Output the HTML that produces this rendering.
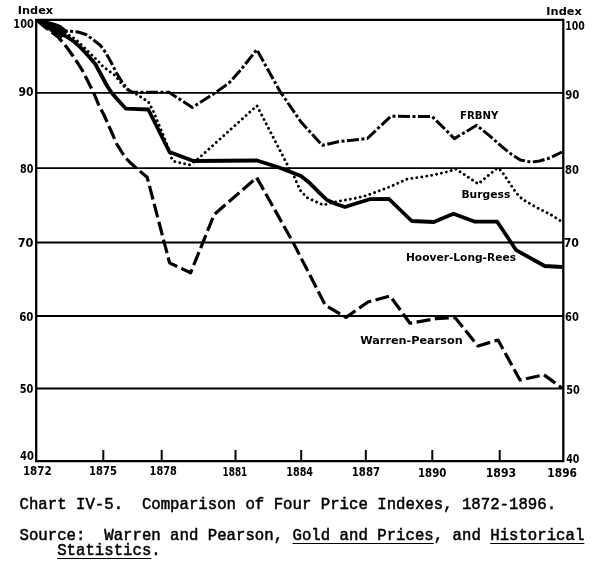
<!DOCTYPE html>
<html><head><meta charset="utf-8"><style>
html,body{margin:0;padding:0;background:#fff;width:600px;height:564px;overflow:hidden;position:relative}
.cap{position:absolute;left:19.5px;font-family:"Liberation Mono",monospace;font-size:15.7px;color:#000;white-space:pre;line-height:14px;-webkit-text-stroke:0.5px #000}
u{text-decoration:underline;text-underline-offset:2.5px;text-decoration-thickness:1.4px}
</style></head><body>
<svg width="600" height="564" viewBox="0 0 600 564" style="position:absolute;left:0;top:0"><line x1="36.5" y1="92.8" x2="563.5" y2="92.8" stroke="#000" stroke-width="1.8"/><line x1="36.5" y1="168.1" x2="563.5" y2="168.1" stroke="#000" stroke-width="1.8"/><line x1="36.5" y1="242.5" x2="563.5" y2="242.5" stroke="#000" stroke-width="1.8"/><line x1="36.5" y1="316.0" x2="563.5" y2="316.0" stroke="#000" stroke-width="1.8"/><line x1="36.5" y1="388.5" x2="563.5" y2="388.5" stroke="#000" stroke-width="1.8"/><path d="M36.2 19.8 H563.3 V461.2 H36.2 Z" fill="none" stroke="#000" stroke-width="2.3"/><line x1="103.3" y1="450" x2="103.3" y2="461" stroke="#000" stroke-width="2"/><line x1="161.7" y1="450" x2="161.7" y2="461" stroke="#000" stroke-width="2"/><line x1="235.5" y1="450" x2="235.5" y2="461" stroke="#000" stroke-width="2"/><line x1="301.2" y1="450" x2="301.2" y2="461" stroke="#000" stroke-width="2"/><line x1="365.8" y1="450" x2="365.8" y2="461" stroke="#000" stroke-width="2"/><line x1="432.3" y1="450" x2="432.3" y2="461" stroke="#000" stroke-width="2"/><line x1="499.7" y1="450" x2="499.7" y2="461" stroke="#000" stroke-width="2"/><polygon points="36.5,19.5 47,20.8 56,23.2 61,25.3 65.5,29 68,31.5 66,34 62,37.5 59.5,39.8 54,34.2 47.3,29.3 42.7,26 38,23" fill="#000"/><polyline points="37.5,20.5 43.0,25.5 50.0,31.0 58.0,37.0 63.0,42.5 68.0,49.0 73.0,56.0 78.0,63.5 82.1,70.0 87.5,80.5 93.5,92.4 98.8,105.2 104.0,115.0 109.1,126.5 117.1,144.7 125.1,157.4 131.5,163.8 137.8,169.4 147.2,177.3 169.6,262.9 190.6,272.8 214.2,214.5 256.7,177.6 293.4,243.0 325.3,305.2 346.0,317.4 368.0,302.0 390.0,296.0 410.0,323.2 436.0,318.7 455.0,317.5 478.0,346.0 498.0,340.0 520.0,380.0 544.0,374.8 562.0,388.0" fill="none" stroke="#000" stroke-width="3.2" stroke-dasharray="14 4.5" stroke-linejoin="round"/><polyline points="37.5,20.5 48.0,23.5 58.0,27.5 66.0,31.0 78.0,32.0 86.0,34.5 93.0,39.5 100.5,45.5 105.6,52.5 111.0,62.0 116.5,73.0 121.5,81.0 126.5,88.5 132.0,92.3 169.0,92.3 192.4,107.4 214.5,93.3 229.2,82.8 240.7,70.0 256.8,49.6 279.8,91.1 301.0,122.0 322.3,145.3 338.3,141.7 367.3,138.5 390.7,116.3 432.2,116.5 454.4,138.6 476.6,125.3 490.6,136.6 501.3,146.2 511.9,154.7 520.4,160.0 531.0,162.1 539.6,161.0 550.2,157.9 562.0,152.0" fill="none" stroke="#000" stroke-width="3" stroke-dasharray="12 2.5 3 2.5" stroke-linejoin="round"/><polyline points="37.5,20.5 45.0,23.5 55.0,28.5 63.0,32.5 68.6,35.0 75.7,39.3 81.4,44.8 86.4,49.8 92.0,55.3 98.0,61.0 103.0,66.5 114.5,75.0 123.3,85.6 128.7,91.0 135.5,93.6 148.5,102.0 153.5,111.5 169.2,150.0 171.5,158.0 173.8,161.3 189.4,164.9 196.8,160.0 256.9,105.7 289.2,168.3 294.2,176.7 300.0,190.0 306.7,197.5 323.3,205.0 337.0,201.5 356.7,198.0 367.3,195.3 390.0,186.7 407.3,179.0 431.0,175.5 446.5,172.0 456.0,169.0 478.2,183.9 497.2,168.1 501.3,170.6 507.7,180.2 516.2,193.0 522.6,199.4 535.3,206.8 550.2,214.3 562.0,221.7" fill="none" stroke="#000" stroke-width="2.9" stroke-dasharray="0.01 5" stroke-linecap="round" stroke-linejoin="round"/><polyline points="37.5,20.5 45.0,24.0 53.0,29.0 60.0,33.5 67.0,36.8 74.0,41.5 80.4,47.4 85.7,53.0 90.6,58.5 95.6,64.5 101.5,75.5 107.1,86.0 111.4,92.4 119.9,102.3 126.0,108.7 148.3,109.5 169.5,152.0 193.5,161.0 257.0,160.5 279.0,167.5 301.0,176.0 310.0,183.3 320.0,193.3 327.0,200.0 336.7,204.2 345.0,207.0 356.7,203.3 369.7,199.2 389.0,199.0 411.7,221.0 433.8,222.0 453.5,213.7 475.0,221.7 497.2,221.7 516.2,250.2 544.7,266.0 562.0,267.0" fill="none" stroke="#000" stroke-width="3.8" stroke-linejoin="round"/><text x="17.87" y="13.75" font-family="DejaVu Sans, sans-serif" font-weight="bold" font-size="10.3" textLength="35.29" lengthAdjust="spacingAndGlyphs">Index</text><text x="546.37" y="15.0" font-family="DejaVu Sans, sans-serif" font-weight="bold" font-size="10.3" textLength="35.39" lengthAdjust="spacingAndGlyphs">Index</text><text x="13.37" y="28.3" font-family="DejaVu Sans, sans-serif" font-weight="bold" font-size="12.0" textLength="20.5" lengthAdjust="spacingAndGlyphs">100</text><text x="18.46" y="96.0" font-family="DejaVu Sans, sans-serif" font-weight="bold" font-size="12.0" textLength="14.99" lengthAdjust="spacingAndGlyphs">90</text><text x="20.02" y="173.0" font-family="DejaVu Sans, sans-serif" font-weight="bold" font-size="12.0" textLength="13.38" lengthAdjust="spacingAndGlyphs">80</text><text x="17.65" y="247.0" font-family="DejaVu Sans, sans-serif" font-weight="bold" font-size="12.0" textLength="15.83" lengthAdjust="spacingAndGlyphs">70</text><text x="19.24" y="320.5" font-family="DejaVu Sans, sans-serif" font-weight="bold" font-size="12.0" textLength="14.19" lengthAdjust="spacingAndGlyphs">60</text><text x="19.76" y="393.0" font-family="DejaVu Sans, sans-serif" font-weight="bold" font-size="12.0" textLength="13.65" lengthAdjust="spacingAndGlyphs">50</text><text x="20.0" y="459.5" font-family="DejaVu Sans, sans-serif" font-weight="bold" font-size="12.0" textLength="13.92" lengthAdjust="spacingAndGlyphs">40</text><text x="565.33" y="30.0" font-family="DejaVu Sans, sans-serif" font-weight="bold" font-size="12.0" textLength="19.52" lengthAdjust="spacingAndGlyphs">100</text><text x="565.29" y="98.5" font-family="DejaVu Sans, sans-serif" font-weight="bold" font-size="12.0" textLength="14.13" lengthAdjust="spacingAndGlyphs">90</text><text x="565.0" y="173.5" font-family="DejaVu Sans, sans-serif" font-weight="bold" font-size="12.0" textLength="13.92" lengthAdjust="spacingAndGlyphs">80</text><text x="563.68" y="247.0" font-family="DejaVu Sans, sans-serif" font-weight="bold" font-size="12.0" textLength="15.28" lengthAdjust="spacingAndGlyphs">70</text><text x="565.05" y="321.0" font-family="DejaVu Sans, sans-serif" font-weight="bold" font-size="12.0" textLength="13.86" lengthAdjust="spacingAndGlyphs">60</text><text x="566.26" y="393.5" font-family="DejaVu Sans, sans-serif" font-weight="bold" font-size="12.0" textLength="13.65" lengthAdjust="spacingAndGlyphs">50</text><text x="566.23" y="462.5" font-family="DejaVu Sans, sans-serif" font-weight="bold" font-size="12.0" textLength="13.17" lengthAdjust="spacingAndGlyphs">40</text><text x="22.91" y="475.3" font-family="DejaVu Sans, sans-serif" font-weight="bold" font-size="12.0" textLength="28.75" lengthAdjust="spacingAndGlyphs">1872</text><text x="89.05" y="475.0" font-family="DejaVu Sans, sans-serif" font-weight="bold" font-size="12.0" textLength="27.83" lengthAdjust="spacingAndGlyphs">1875</text><text x="149.57" y="475.3" font-family="DejaVu Sans, sans-serif" font-weight="bold" font-size="12.0" textLength="27.3" lengthAdjust="spacingAndGlyphs">1878</text><text x="222.59" y="475.7" font-family="DejaVu Sans, sans-serif" font-weight="bold" font-size="12.0" textLength="24.62" lengthAdjust="spacingAndGlyphs">1881</text><text x="286.3" y="475.7" font-family="DejaVu Sans, sans-serif" font-weight="bold" font-size="12.0" textLength="26.76" lengthAdjust="spacingAndGlyphs">1884</text><text x="351.73" y="476.2" font-family="DejaVu Sans, sans-serif" font-weight="bold" font-size="12.0" textLength="28.32" lengthAdjust="spacingAndGlyphs">1887</text><text x="417.92" y="476.7" font-family="DejaVu Sans, sans-serif" font-weight="bold" font-size="12.0" textLength="28.47" lengthAdjust="spacingAndGlyphs">1890</text><text x="485.63" y="476.7" font-family="DejaVu Sans, sans-serif" font-weight="bold" font-size="12.0" textLength="30.59" lengthAdjust="spacingAndGlyphs">1893</text><text x="547.37" y="476.7" font-family="DejaVu Sans, sans-serif" font-weight="bold" font-size="12.0" textLength="29.54" lengthAdjust="spacingAndGlyphs">1896</text><text x="460.09" y="119.3" font-family="DejaVu Sans, sans-serif" font-weight="bold" font-size="11.3" textLength="38.33" lengthAdjust="spacingAndGlyphs">FRBNY</text><text x="461.42" y="198.0" font-family="DejaVu Sans, sans-serif" font-weight="bold" font-size="11.3" textLength="48.93" lengthAdjust="spacingAndGlyphs">Burgess</text><text x="405.94" y="261.0" font-family="DejaVu Sans, sans-serif" font-weight="bold" font-size="11.3" textLength="110.07" lengthAdjust="spacingAndGlyphs">Hoover-Long-Rees</text><text x="360.22" y="343.6" font-family="DejaVu Sans, sans-serif" font-weight="bold" font-size="11.3" textLength="102.5" lengthAdjust="spacingAndGlyphs">Warren-Pearson</text></svg>
<div class="cap" style="top:498px">Chart IV-5.  Comparison of Four Price Indexes, 1872-1896.</div>
<div class="cap" style="top:529px">Source:  Warren and Pearson, <u>Gold and Prices</u>, and <u>Historical</u></div>
<div class="cap" style="top:544px">    <u>Statistics</u>.</div>
</body></html>
